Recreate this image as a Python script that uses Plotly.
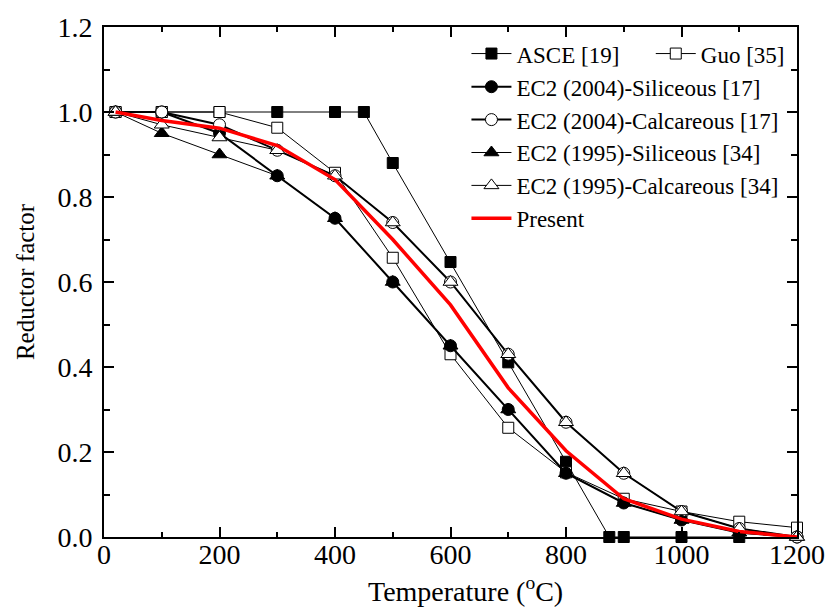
import plotly.graph_objects as go

# ---------------- data ----------------
asce_T = [20, 100, 200, 300, 400, 450, 500, 600, 700, 800, 875, 900, 1000, 1100]
asce_v = [1.0, 1.0, 1.0, 1.0, 1.0, 1.0, 0.88, 0.647, 0.411, 0.177, 0.0, 0.0, 0.0, 0.0]

guo_T = [20, 100, 200, 300, 400, 500, 600, 700, 800, 900, 1000, 1100, 1200]
guo_v = [1.0, 1.0, 1.0, 0.963, 0.857, 0.657, 0.43, 0.257, 0.152, 0.09, 0.06, 0.036, 0.022]

ec_T = [20, 100, 200, 300, 400, 500, 600, 700, 800, 900, 1000, 1100, 1200]
ec04_sil = [1.0, 1.0, 0.95, 0.85, 0.75, 0.60, 0.45, 0.30, 0.15, 0.08, 0.04, 0.01, 0.0]
ec04_cal = [1.0, 1.0, 0.97, 0.91, 0.85, 0.74, 0.60, 0.43, 0.27, 0.15, 0.06, 0.02, 0.0]
ec95_sil = [1.0, 0.95, 0.90, 0.85, 0.75, 0.60, 0.45, 0.30, 0.15, 0.08, 0.04, 0.01, 0.0]
ec95_cal = [1.0, 0.97, 0.94, 0.91, 0.85, 0.74, 0.60, 0.43, 0.27, 0.15, 0.06, 0.02, 0.0]

present_T = [20, 100, 200, 300, 400, 500, 600, 700, 800, 900, 1000, 1100, 1200]
present_v = [1.0, 0.98, 0.962, 0.921, 0.841, 0.70, 0.546, 0.351, 0.203, 0.09, 0.042, 0.013, 0.0]

names = ["ASCE [19]", "Guo [35]", "EC2 (2004)-Siliceous [17]", "EC2 (2004)-Calcareous [17]",
         "EC2 (1995)-Siliceous [34]", "EC2 (1995)-Calcareous [34]", "Present"]

x_title = "Temperature (<sup>o</sup>C)"
y_title = "Reductor factor"

FONT = "Liberation Serif"

fig = go.Figure()

def add(x, y, name, symbol, size, fill, lw, legend):
    fig.add_trace(go.Scatter(
        x=x, y=y, name=name, mode="lines+markers", legend=legend, showlegend=True,
        line=dict(color="black", width=lw),
        marker=dict(symbol=symbol, size=size, color=fill,
                    line=dict(color="black", width=1)),
        cliponaxis=False,
    ))

add(asce_T, asce_v, names[0], "square", 11, "black", 1, "legend")
add(guo_T, guo_v, names[1], "square", 11, "white", 1, "legend3")
add(ec_T, ec04_sil, names[2], "circle", 12, "black", 2, "legend2")
add(ec_T, ec04_cal, names[3], "circle", 12, "white", 2, "legend2")
add(ec_T, ec95_sil, names[4], "triangle-up", 13, "black", 1, "legend2")
add(ec_T, ec95_cal, names[5], "triangle-up", 13, "white", 1, "legend2")
fig.add_trace(go.Scatter(x=present_T, y=present_v, name=names[6], mode="lines",
                         legend="legend2", showlegend=True,
                         line=dict(color="#ff0000", width=3.5), cliponaxis=False))

axis_common = dict(
    showline=True, linecolor="black", linewidth=2, mirror="ticks",
    ticks="inside", ticklen=10, tickwidth=1.5, tickcolor="black",
    showgrid=False, zeroline=False,
    tickfont=dict(family=FONT, size=28, color="black"),
)

fig.update_xaxes(range=[0, 1200], dtick=200, tick0=0,
                 minor=dict(dtick=100, ticks="inside", ticklen=5, tickwidth=1.5, tickcolor="black"),
                 ticklabelstandoff=-9, **axis_common)
fig.update_yaxes(range=[0, 1.2], dtick=0.2, tick0=0, tickformat=".1f",
                 minor=dict(dtick=0.1, ticks="inside", ticklen=6, tickwidth=1.5, tickcolor="black"),
                 title=dict(text=y_title, font=dict(family=FONT, size=25, color="black"), standoff=16),
                 ticklabelstandoff=4, **axis_common)

fig.add_annotation(text=x_title, xref="paper", yref="paper", x=0.521, y=-0.103,
                   xanchor="center", yanchor="middle", showarrow=False,
                   font=dict(family=FONT, size=28, color="black"))

legend_font = dict(family=FONT, size=23, color="black")
leg_common = dict(font=legend_font, bgcolor="rgba(0,0,0,0)", itemwidth=40,
                  xanchor="left", yanchor="top", visible=True)
fig.update_layout(
    width=837, height=615,
    margin=dict(l=104, r=33, t=23, b=78),
    paper_bgcolor="white", plot_bgcolor="white",
    showlegend=True,
    legend=dict(orientation="v", x=0.523, y=0.99, **leg_common),
    legend3=dict(orientation="v", x=0.789, y=0.99, **leg_common),
    legend2=dict(orientation="v", x=0.523, y=0.925, tracegroupgap=0, **leg_common),
)

fig.write_html("out.html")
